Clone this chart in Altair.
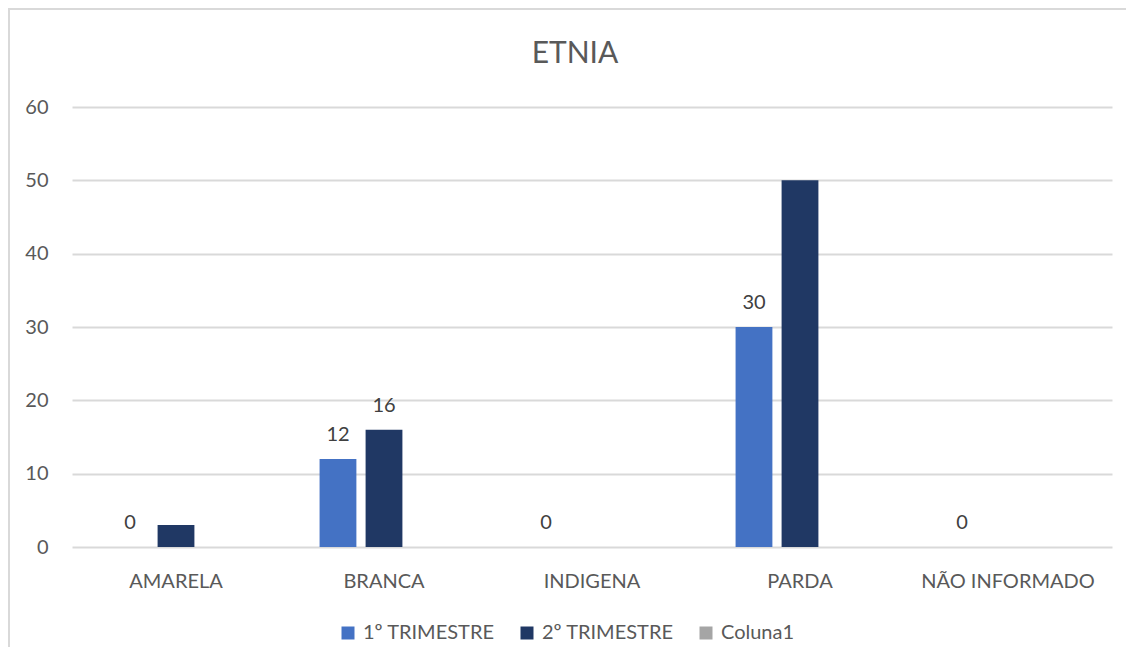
import altair as alt
import pandas as pd

categories = ["AMARELA", "BRANCA", "INDIGENA", "PARDA", "NÃO INFORMADO"]
series_names = ["1º TRIMESTRE", "2º TRIMESTRE", "Coluna1"]
trim1 = [0, 12, 0, 30, 0]
trim2 = [3, 16, 0, 50, 0]
show1 = [True, True, True, True, True]
show2 = [False, True, False, False, False]
colors = ["#4472C4", "#203864", "#A5A5A5"]
y_ticks = [0, 10, 20, 30, 40, 50, 60]

rows = []
for c, v, s in zip(categories, trim1, show1):
    rows.append({"cat": c, "serie": series_names[0], "valor": v, "show": s})
for c, v, s in zip(categories, trim2, show2):
    rows.append({"cat": c, "serie": series_names[1], "valor": v, "show": s})
df = pd.DataFrame(rows)

FONT = "Lato"
GREY = "#595959"

x = alt.X(
    "cat:N",
    sort=categories,
    scale=alt.Scale(paddingInner=0, paddingOuter=0),
    axis=alt.Axis(
        title=None, labelAngle=0, labelFont=FONT, labelFontSize=20,
        labelColor=GREY, ticks=False, domain=False, labelPadding=24, grid=False,
    ),
)
xo = alt.XOffset(
    "serie:N",
    scale=alt.Scale(domain=series_names, paddingInner=0.2, paddingOuter=0.86),
)
y = alt.Y(
    "valor:Q",
    scale=alt.Scale(domain=[0, 60], nice=False),
    axis=alt.Axis(
        title=None, values=y_ticks, labelFont=FONT, labelFontSize=20,
        labelColor=GREY, ticks=False, domain=False, labelPadding=24,
        gridColor="#D9D9D9", gridWidth=2,
    ),
)

bars = alt.Chart(df).mark_bar().encode(
    x=x,
    xOffset=xo,
    y=y,
    color=alt.Color(
        "serie:N",
        scale=alt.Scale(domain=series_names, range=colors),
        legend=alt.Legend(
            title=None, orient="none", legendX=266, legendY=516,
            direction="horizontal", symbolType="square", symbolSize=169,
            symbolStrokeWidth=0, labelFont=FONT, labelFontSize=20,
            labelColor=GREY, columnPadding=22, labelOffset=5,
        ),
    ),
)

labels = alt.Chart(df).transform_filter("datum.show").mark_text(
    dy=-18, baseline="alphabetic", fontSize=20, font=FONT, color="#404040"
).encode(x=x, xOffset=xo, y=y, text="valor:Q")

frame_data = alt.Data(values=[{"k": 1}])
frame_left = alt.Chart(frame_data).mark_rule(color="#D9D9D9", strokeWidth=2).encode(
    x=alt.value(-63), y=alt.value(-98), y2=alt.value(560)
)
frame_top = alt.Chart(frame_data).mark_rule(color="#D9D9D9", strokeWidth=2).encode(
    x=alt.value(-64), x2=alt.value(1060), y=alt.value(-98)
)

chart = alt.layer(frame_left, frame_top, bars, labels).properties(
    width=1040,
    height=440,
    autosize="none",
    padding={"left": 64, "top": 99, "right": 14, "bottom": 100},
    title=alt.TitleParams(
        "ETNIA", font=FONT, fontSize=30, fontWeight="normal", color=GREY,
        dx=-17, offset=-85, baseline="alphabetic",
    ),
).configure_view(stroke=None)

chart.save("out.html", embed_options={"renderer": "svg", "actions": False})
